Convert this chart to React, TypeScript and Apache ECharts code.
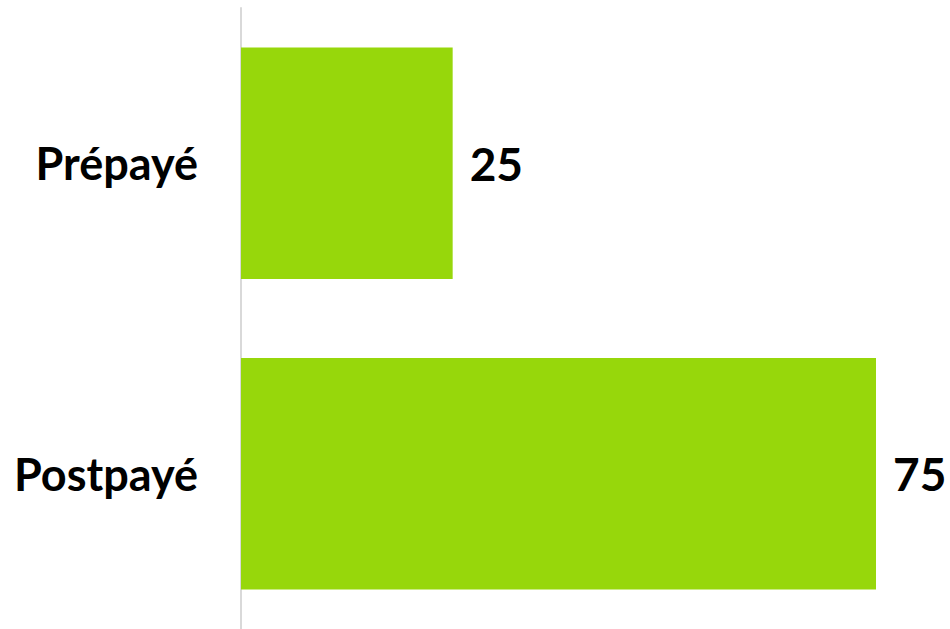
import React, { useEffect, useRef } from "react";
import * as echarts from "echarts";

const categories = ["Prépayé", "Postpayé"];
const values = [25, 75];

export default function App() {
  const ref = useRef<HTMLDivElement>(null);
  useEffect(() => {
    if (!ref.current) return;
    const chart = echarts.init(ref.current, null, { renderer: "svg" });
    chart.setOption({
      animation: false,
      backgroundColor: "#ffffff",
      grid: { left: 241, right: 74, top: 8, bottom: -2, containLabel: false },
      xAxis: {
        type: "value",
        min: 0,
        max: 75,
        show: false,
      },
      yAxis: {
        type: "category",
        inverse: true,
        data: categories,
        axisLine: { show: true, lineStyle: { color: "#d9d9d9", width: 2 } },
        axisTick: { show: false },
        axisLabel: {
          margin: 43,
          color: "#000000",
          fontFamily: "Lato",
          fontWeight: "bold",
          fontSize: 45,
        },
      },
      series: [
        {
          type: "bar",
          data: values,
          barCategoryGap: "25.5%",
          itemStyle: { color: "#97d70b" },
          label: {
            show: true,
            position: "right",
            distance: 17,
            color: "#000000",
            fontFamily: "Lato",
            fontWeight: "bold",
            fontSize: 46,
          },
        },
      ],
    });
    return () => chart.dispose();
  }, []);
  return (
    <div
      ref={ref}
      style={{ position: "fixed", left: 0, top: 0, width: 950, height: 629 }}
    />
  );
}
